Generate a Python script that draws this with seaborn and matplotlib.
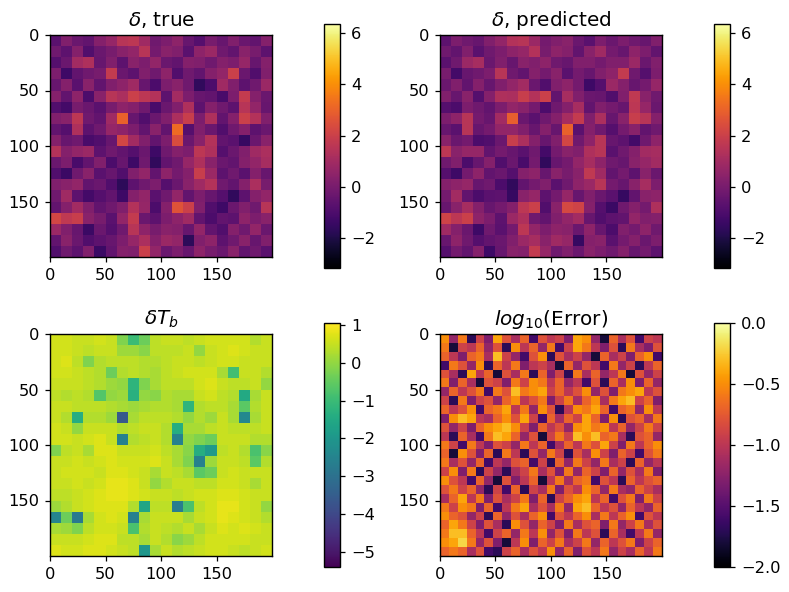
"""
Four field maps: density true / predicted, brightness temperature, log error.
Fields are coarse grids estimated by eye from the reference image.
"""

import matplotlib
matplotlib.use("Agg")

import matplotlib.pyplot as plt
import numpy as np
import seaborn as sns

sns.set_theme(style="white", rc={"axes.edgecolor": "black", "axes.linewidth": 1.0})
plt.rcParams["font.family"] = ["DejaVu Sans"]
plt.rcParams["xtick.bottom"] = True
plt.rcParams["ytick.left"] = True

tick_values = [0, 50, 100, 150]
field_size = 200

delta_true = [
    [-0.7, 0.2, -0.3, -0.5, 0.3, 0.7, 1.5, 1.6, 0.9, -0.2, 0.1, 0.5, -0.4, -0.8, 0.0, -0.4, 0.2, -0.3, -0.5, 0.3],
    [-0.2, -0.6, 0.3, -0.9, -0.3, 0.0, 0.4, 0.6, 1.5, -0.1, 0.4, 0.2, -0.7, 0.5, 0.8, -0.2, -0.5, 0.4, 0.0, -0.6],
    [-0.8, -0.3, 1.0, 1.3, -0.4, 0.2, -0.6, 0.4, 0.1, 0.6, -0.3, -0.5, 0.3, 0.2, -0.2, 0.3, 0.1, 0.7, -0.4, 0.3],
    [0.1, -1.3, -0.5, -0.2, 0.0, 1.8, -0.3, -0.6, 0.2, -0.2, 0.5, -0.9, -0.2, -0.5, 0.3, 0.6, 2.0, -0.3, -0.9, 0.2],
    [-0.4, 0.3, -0.7, 0.4, -0.5, 0.2, 0.5, 0.9, -0.4, -1.0, 0.1, 0.4, -0.2, -1.6, -1.0, 0.9, 0.2, -0.6, -0.2, 0.8],
    [0.3, -0.5, 0.5, -1.0, 0.4, 1.5, 1.2, 2.0, 1.6, 1.4, -0.6, 1.0, 0.1, -0.4, -0.5, -1.1, 0.1, 1.8, 0.3, -0.3],
    [-0.9, -1.2, 0.0, -0.3, -0.7, 0.0, 0.5, 0.3, -0.2, -1.1, -0.3, 0.2, 1.3, -0.6, 0.3, -0.2, -0.6, 1.5, 0.6, -0.4],
    [0.2, 0.4, 1.6, -0.2, -0.5, 0.9, 3.0, -0.4, -0.9, -0.3, 0.2, 1.2, 1.9, 0.1, 1.3, -0.5, 0.3, 2.0, 1.4, 0.2],
    [-0.5, -0.8, 1.3, -0.6, -0.2, 0.7, 0.5, 0.1, -0.5, 0.4, -0.5, 3.2, -0.8, 0.2, -0.3, -0.9, -0.2, 0.3, -0.6, -0.3],
    [0.3, -0.4, -0.2, -1.1, -0.9, -0.4, 2.2, 1.0, 0.2, -0.5, 0.1, 2.4, -0.3, 0.4, 1.4, -0.5, -0.7, -1.5, -0.3, 0.4],
    [1.4, 0.3, 0.6, 0.8, -0.6, -0.2, -0.5, -0.8, -0.3, -1.3, -0.2, 0.3, 0.1, 1.6, 1.3, -0.8, -0.3, 0.2, 0.9, 1.2],
    [-0.3, 0.1, -1.1, -0.5, 0.2, -1.0, -0.4, -1.3, -0.2, -1.6, -0.5, -0.2, 0.7, 1.3, 0.4, -0.3, -0.5, 0.3, 0.6, 1.1],
    [-0.9, -1.4, -0.2, 0.4, -0.7, -0.4, -0.9, 0.2, 0.6, -0.5, 0.5, -0.1, 0.3, 1.9, 0.8, -0.6, -0.2, -0.7, 0.3, -0.4],
    [0.2, 0.4, 0.6, -0.5, -0.3, -0.9, -1.7, -0.6, -0.2, 0.1, -0.8, -0.3, 0.4, 0.9, 1.4, -0.2, -0.5, 0.3, 1.2, 0.0],
    [-0.2, 0.9, -0.6, -1.2, -0.8, -0.5, -1.3, 0.3, 0.6, -0.7, -0.2, 0.6, -0.5, 0.1, -0.4, -0.8, -1.6, -0.6, 0.3, 0.6],
    [-0.5, 0.3, 1.0, 0.2, -0.5, -0.2, 0.2, 1.4, 0.7, -1.0, 0.3, 2.6, 2.0, 0.2, -0.9, -1.3, -0.3, 0.2, -0.2, 1.5],
    [2.2, 1.7, 1.9, 0.4, 0.0, -0.7, 0.6, 1.8, -0.3, -0.6, 0.1, 0.5, 0.9, -0.5, -1.0, -0.5, -0.6, 0.5, 0.1, 0.4],
    [0.8, 0.2, -0.4, -1.4, -0.3, -0.8, -0.2, 1.5, 0.5, 0.0, 0.4, 0.3, -0.4, 0.6, -0.5, -0.9, 0.3, -0.2, 0.6, -0.3],
    [-0.5, 0.4, -0.3, -0.9, -0.6, -0.4, 0.1, 0.7, 1.2, 0.3, 0.8, 0.6, -1.7, 0.2, 0.5, -0.6, -0.2, 0.4, -0.4, 0.2],
    [-0.9, -0.2, -0.6, 0.2, -1.4, -0.5, 0.3, 0.2, 2.0, 0.6, -0.3, 0.1, -0.4, 0.5, 0.0, -0.3, 0.4, -0.5, -0.2, -0.7],
]

delta_pred = [
    [-0.6, 0.1, -0.2, -0.4, 0.2, 0.6, 1.4, 1.5, 0.8, -0.1, 0.2, 0.4, -0.3, -0.7, 0.1, -0.3, 0.1, -0.2, -0.4, 0.2],
    [-0.2, -0.5, 0.2, -0.7, -0.2, 0.1, 0.5, 0.7, 1.4, 0.0, 0.5, 0.3, -0.5, 0.4, 0.9, -0.1, -0.4, 0.5, 0.1, -0.5],
    [-0.7, -0.2, 0.8, 1.1, -0.3, 0.2, -0.4, 0.4, 0.2, 0.5, -0.2, -0.4, 0.2, 0.2, -0.1, 0.2, 0.2, 0.8, -0.3, 0.2],
    [0.0, -1.2, -0.4, -0.2, 0.1, 1.5, -0.2, -0.5, 0.3, -0.1, 0.4, -0.7, -0.1, -0.4, 0.2, 0.5, 1.8, -0.2, -0.8, 0.1],
    [-0.3, 0.2, -0.5, 0.3, -0.4, 0.2, 0.6, 1.0, -0.3, -0.9, 0.2, 0.5, -0.1, -1.3, -0.8, 0.8, 0.3, -0.4, -0.1, 0.7],
    [0.2, -0.4, 0.4, -0.8, 0.3, 1.3, 1.2, 1.9, 1.4, 2.0, -0.5, 1.1, 0.2, -0.3, -0.4, -0.9, 0.2, 1.7, 0.4, -0.2],
    [-0.8, -1.0, 0.1, -0.2, -0.5, 0.1, 0.6, 0.4, -0.1, -1.0, -0.2, 0.3, 1.1, -0.5, 0.2, -0.1, -0.4, 1.6, 0.7, -0.3],
    [0.1, 0.5, 1.5, -0.1, -0.4, 1.0, 2.9, -0.3, -0.7, -0.2, 0.3, 1.1, 1.8, 0.2, 1.2, -0.4, 0.4, 1.9, 1.5, 0.3],
    [-0.4, -0.7, 1.5, -0.4, -0.1, 0.6, 0.6, 0.2, -0.4, 0.3, -0.4, 3.0, -0.7, 0.3, -0.2, -0.8, -0.1, 0.4, -0.5, -0.2],
    [0.4, -0.3, -0.1, -1.0, -0.9, -0.3, 1.9, 1.2, 0.3, -0.4, 0.2, 2.2, -0.2, 0.5, 1.5, -0.4, -0.6, -1.2, -0.2, 0.5],
    [1.6, 0.4, 0.7, 0.7, -0.5, -0.1, -0.4, -0.7, -0.2, -1.2, -0.1, 0.4, 0.2, 1.3, 1.5, -0.7, -0.2, 0.3, 1.0, 1.1],
    [-0.2, 0.2, -1.0, -0.4, 0.3, -0.9, -0.3, -1.1, -0.1, -1.6, -0.4, -0.1, 0.6, 1.1, 0.5, -0.2, -0.4, 0.4, 0.7, 1.0],
    [-0.8, -1.3, -0.1, 0.5, -0.5, -0.3, -0.8, 0.3, 0.5, -0.4, 0.4, 0.0, 0.4, 1.7, 0.9, -0.5, -0.1, -0.6, 0.4, -0.3],
    [0.3, 0.5, 0.7, -0.4, -0.2, -1.0, -1.6, -0.5, -0.1, 0.2, -0.7, -0.2, 0.5, 0.8, 1.5, -0.1, -0.4, 0.4, 1.1, 0.1],
    [-0.1, 1.0, -0.5, -1.0, -0.7, -0.6, -1.5, 0.4, 0.7, -0.6, -0.1, 0.7, -0.4, 0.2, -0.3, -0.7, -1.5, -0.5, 0.4, 0.5],
    [-0.4, 0.4, 1.1, 0.3, -0.4, -0.1, 0.3, 1.6, 2.0, -0.9, 0.4, 2.3, 2.1, 0.3, -0.8, -1.4, -0.2, 0.3, -0.1, 1.3],
    [2.1, 1.6, 2.0, 0.5, 0.1, -0.6, 0.8, 1.3, -0.2, -0.5, 0.2, 0.6, 1.0, -0.4, -0.9, -0.6, -0.5, 0.6, 0.2, 0.3],
    [0.9, 0.3, -0.3, -1.3, -0.2, -0.7, -0.1, 1.6, 0.6, 0.1, 0.5, 0.4, -0.3, 0.5, -0.4, -1.0, 0.2, -0.1, 0.5, -0.2],
    [-0.4, 0.5, -0.2, -0.8, -0.5, -0.3, 0.2, 0.8, 1.1, 0.4, 0.9, 0.7, -1.5, 0.3, 0.4, -0.7, -0.1, 0.3, -0.3, 0.1],
    [-0.8, -0.1, -0.5, 0.3, -1.3, -0.4, 0.4, 0.3, 1.8, 0.7, -0.2, 0.2, -0.3, 0.4, 0.1, -0.2, 0.3, -0.4, -0.1, -0.6],
]

delta_tb = [
    [0.6, 0.6, 0.5, 0.5, 0.6, 0.5, -0.2, -1.0, -0.4, 0.4, 0.5, 0.5, 0.4, 0.5, 0.6, 0.6, 0.6, 0.6, 0.3, 0.5],
    [0.6, 0.6, 0.5, 0.4, 0.5, 0.5, 0.1, 0.1, -0.1, 0.4, 0.4, 0.4, 0.5, 0.0, 0.5, 0.6, 0.7, 0.6, 0.5, 0.5],
    [0.6, 0.7, 0.4, -0.2, 0.3, 0.4, 0.4, 0.4, 0.3, 0.3, 0.4, 0.5, 0.5, 0.4, 0.5, 0.6, 0.6, 0.5, 0.5, 0.5],
    [0.6, 0.6, 0.5, 0.4, 0.3, -0.4, 0.3, 0.4, 0.3, 0.2, 0.4, 0.5, 0.6, 0.6, 0.6, 0.2, -0.9, 0.5, 0.5, 0.3],
    [0.5, 0.5, 0.5, 0.4, 0.3, 0.1, 0.0, -1.2, -0.2, 0.2, 0.4, 0.4, 0.4, 0.6, 0.7, 0.5, 0.4, 0.4, 0.5, 0.0],
    [0.4, 0.3, 0.4, 0.3, -0.7, 0.0, 0.1, -1.3, 0.0, -0.1, 0.3, 0.2, 0.2, 0.5, 0.6, 0.4, 0.3, -1.5, 0.2, 0.5],
    [0.5, 0.5, 0.4, 0.4, 0.4, 0.3, 0.2, 0.1, 0.2, 0.3, 0.3, 0.2, -1.2, 0.3, 0.4, 0.4, 0.2, -0.6, 0.3, 0.5],
    [0.5, 0.3, -1.4, 0.3, 0.3, 0.1, -3.6, 0.2, 0.4, 0.4, 0.4, 0.3, 0.0, 0.3, 0.1, 0.5, 0.2, -2.4, 0.2, 0.5],
    [0.6, 0.5, 0.0, 0.5, 0.5, 0.5, 0.3, 0.4, 0.5, 0.5, 0.3, -1.4, 0.2, 0.2, 0.4, 0.5, 0.4, 0.4, 0.4, 0.5],
    [0.6, 0.6, 0.5, 0.6, 0.7, 0.5, -2.6, 0.3, 0.4, 0.5, 0.3, -2.6, 0.0, -0.2, -0.4, 0.5, 0.5, 0.5, 0.3, 0.3],
    [-0.2, 0.4, 0.5, 0.2, 0.7, 0.7, 0.5, 0.5, 0.5, 0.6, 0.4, 0.2, -0.1, -1.4, -1.9, 0.4, 0.5, 0.3, -0.8, -0.1],
    [0.5, 0.5, 0.6, 0.5, 0.6, 0.7, 0.6, 0.6, 0.6, 0.7, 0.5, 0.2, -0.2, -2.6, 0.1, 0.5, 0.5, 0.4, -0.6, 0.3],
    [0.5, 0.6, 0.6, 0.6, 0.5, 0.7, 0.7, 0.6, 0.5, 0.2, 0.5, 0.4, 0.2, -0.6, -0.4, 0.5, 0.6, 0.5, 0.5, 0.5],
    [0.5, 0.5, 0.6, 0.5, 0.6, 0.8, 0.8, 0.7, 0.5, 0.0, 0.3, 0.5, 0.5, 0.4, 0.4, 0.6, 0.6, 0.5, 0.2, 0.5],
    [0.4, 0.4, 0.5, 0.6, 0.7, 0.8, 0.8, 0.7, 0.6, 0.5, 0.5, 0.4, 0.5, 0.6, 0.6, 0.7, 0.7, 0.6, 0.5, 0.5],
    [0.1, 0.3, 0.5, 0.6, 0.7, 0.7, 0.7, 0.3, -1.6, 0.4, 0.4, -2.7, -0.8, 0.4, 0.6, 0.8, 0.8, 0.6, 0.5, 0.0],
    [-2.5, -0.4, -2.8, 0.2, 0.6, 0.7, 0.6, -2.6, 0.2, 0.5, 0.5, 0.5, 0.2, 0.5, 0.6, 0.8, 0.7, 0.6, 0.5, 0.3],
    [0.2, 0.1, -0.2, 0.4, 0.6, 0.6, 0.5, -0.8, 0.3, 0.5, 0.4, 0.3, 0.5, 0.2, 0.5, 0.7, 0.6, 0.7, 0.6, 0.5],
    [0.5, 0.5, 0.5, 0.6, 0.7, 0.7, 0.4, 0.4, 0.2, 0.5, 0.3, -0.1, 0.1, 0.4, 0.6, 0.6, 0.6, 0.6, 0.5, 0.5],
    [0.7, 0.6, 0.6, 0.7, 0.7, 0.6, 0.5, 0.4, -2.0, 0.2, 0.5, 0.3, 0.4, 0.5, 0.6, 0.6, 0.5, 0.4, 0.5, 0.6],
]

log_error = [
    [-0.5, -1.2, -0.6, -1.7, -0.9, -1.3, -0.4, -0.8, -1.1, -0.7, -1.6, -0.8, -1.0, -0.9, -1.3, -0.4, -0.5, -1.2, -1.8, -0.7, -1.1, -0.8, -1.6, -0.9, -1.0],
    [-0.6, -1.8, -0.9, -1.0, -0.7, -1.2, -0.8, -1.7, -0.5, -1.0, -0.7, -1.2, -0.6, -1.6, -0.9, -0.4, -0.6, -1.0, -1.3, -0.8, -1.7, -0.6, -1.1, -1.3, -0.8],
    [-0.7, -1.0, -1.3, -0.7, -0.6, -1.1, -0.3, -0.9, -1.2, -1.6, -0.8, -0.5, -1.7, -0.8, -1.1, -0.9, -1.2, -1.8, -0.7, -1.1, -0.9, -1.3, -0.7, -0.5, -1.6],
    [-1.6, -0.6, -0.8, -1.2, -0.5, -1.7, -0.7, -1.0, -0.6, -1.3, -1.0, -0.9, -1.1, -1.8, -0.7, -1.2, -0.8, -1.0, -1.6, -0.6, -1.2, -0.9, -1.7, -1.0, -0.7],
    [-0.8, -1.1, -1.7, -0.4, -1.0, -0.7, -1.8, -0.8, -1.1, -0.6, -1.7, -0.7, -1.3, -0.9, -1.7, -0.6, -1.1, -0.7, -1.2, -1.0, -0.6, -1.8, -0.8, -1.2, -0.9],
    [-0.6, -1.3, -0.7, -1.1, -1.8, -0.8, -0.9, -1.3, -0.6, -0.9, -0.5, -0.6, -1.0, -0.7, -1.2, -1.0, -1.6, -0.8, -1.7, -0.7, -1.1, -0.5, -1.3, -0.7, -1.2],
    [-1.2, -0.7, -1.0, -0.8, -0.6, -1.6, -0.6, -0.8, -0.3, -0.6, -0.5, -0.4, -0.9, -0.7, -1.0, -0.8, -0.5, -1.2, -0.8, -1.3, -0.6, -0.5, -0.4, -1.0, -0.8],
    [-0.9, -1.7, -0.6, -1.3, -0.9, -0.8, -1.2, -0.7, -0.5, -1.0, -0.8, -0.6, -1.3, -0.9, -0.6, -1.1, -0.7, -0.5, -1.1, -0.6, -0.4, -0.3, -0.9, -0.7, -1.3],
    [-0.7, -1.0, -0.8, -0.5, -1.6, -0.7, -0.6, -0.4, -1.0, -0.6, -1.2, -0.5, -0.8, -1.7, -1.0, -0.5, -0.6, -0.4, -0.7, -1.6, -0.7, -0.6, -1.2, -0.5, -1.0],
    [-1.3, -0.5, -0.3, -0.4, -1.0, -1.1, -0.7, -0.5, -0.8, -0.4, -0.9, -1.6, -0.7, -1.1, -0.7, -0.9, -0.4, -0.7, -1.3, -0.5, -1.7, -0.8, -0.7, -1.1, -0.6],
    [-0.8, -1.2, -0.9, -1.3, -0.7, -0.5, -0.4, -0.3, -0.5, -0.9, -1.3, -0.7, -1.0, -0.8, -1.2, -0.5, -0.4, -0.6, -0.5, -1.0, -0.7, -1.2, -0.9, -0.6, -0.9],
    [-1.0, -1.7, -0.7, -1.1, -1.6, -0.6, -0.3, -0.4, -0.7, -1.2, -0.8, -1.8, -0.9, -0.6, -0.9, -0.3, -0.5, -0.3, -0.7, -0.6, -1.1, -1.7, -0.8, -0.7, -1.2],
    [-0.6, -0.9, -1.6, -0.6, -1.0, -1.3, -0.8, -0.9, -1.2, -0.6, -1.0, -0.7, -1.6, -1.1, -0.7, -1.0, -0.6, -0.8, -0.4, -0.9, -1.3, -0.6, -1.0, -0.7, -0.5],
    [-0.7, -1.8, -0.5, -0.8, -1.3, -0.7, -1.7, -0.6, -1.0, -1.7, -0.8, -1.2, -0.6, -0.9, -1.7, -0.8, -1.1, -0.5, -0.9, -1.3, -0.7, -0.9, -1.6, -0.8, -0.6],
    [-0.6, -1.1, -0.8, -1.2, -0.7, -1.6, -1.0, -1.2, -0.8, -0.7, -1.6, -0.9, -1.7, -0.7, -1.2, -0.6, -0.9, -1.2, -0.6, -1.1, -0.9, -1.7, -0.7, -1.2, -1.0],
    [-0.9, -0.5, -1.3, -0.6, -1.7, -0.9, -1.2, -1.7, -1.1, -0.9, -0.6, -1.1, -0.8, -1.3, -0.6, -1.2, -0.7, -0.9, -1.3, -0.7, -1.2, -0.8, -1.1, -0.6, -1.3],
    [-0.5, -0.8, -1.0, -1.6, -0.7, -1.2, -1.8, -0.8, -1.3, -1.0, -0.7, -1.8, -1.0, -0.6, -1.1, -0.7, -0.6, -1.6, -0.8, -1.0, -1.7, -0.7, -1.0, -0.8, -0.7],
    [-0.8, -0.6, -0.9, -0.7, -1.2, -1.7, -0.9, -1.6, -0.7, -1.7, -0.9, -1.1, -0.6, -1.3, -0.8, -1.0, -0.5, -0.7, -1.2, -0.6, -1.1, -1.2, -0.7, -0.9, -1.1],
    [-1.1, -0.7, -0.4, -1.0, -0.6, -1.3, -0.8, -1.1, -0.9, -0.6, -1.3, -0.7, -1.7, -0.9, -0.7, -0.5, -0.4, -1.0, -0.7, -1.6, -0.8, -0.6, -1.3, -0.6, -0.9],
    [-0.6, -0.9, -0.5, -0.6, -1.3, -0.7, -1.6, -1.0, -0.6, -0.4, -1.1, -0.8, -1.1, -0.6, -1.2, -0.4, -0.3, -0.7, -1.0, -0.8, -1.2, -0.7, -1.0, -1.2, -0.7],
    [-0.5, -0.7, -0.8, -1.2, -0.9, -1.7, -0.7, -1.2, -0.8, -1.1, -0.7, -0.5, -1.6, -0.8, -1.0, -0.7, -0.5, -1.1, -0.6, -1.0, -0.7, -0.5, -1.6, -0.8, -1.0],
    [-0.7, -0.4, -0.6, -0.9, -1.3, -0.8, -1.1, -1.7, -0.5, -0.8, -1.2, -0.7, -0.9, -1.3, -0.6, -1.1, -0.8, -0.7, -1.3, -0.6, -1.2, -0.9, -0.6, -1.1, -0.8],
    [-0.6, -0.3, -0.3, -0.7, -1.0, -1.6, -0.9, -0.7, -1.2, -0.6, -1.0, -0.5, -1.2, -0.8, -1.3, -0.6, -1.0, -0.8, -1.7, -0.7, -1.1, -1.6, -1.0, -0.6, -1.2],
    [-0.5, -0.4, -0.2, -0.6, -1.2, -0.8, -1.3, -1.8, -1.0, -0.5, -1.3, -0.7, -0.9, -0.6, -1.1, -0.9, -0.6, -1.2, -0.7, -1.0, -0.8, -0.6, -1.3, -0.9, -0.7],
    [-0.7, -0.6, -0.7, -1.1, -0.8, -1.6, -1.7, -0.9, -0.7, -1.1, -0.8, -1.0, -0.5, -1.2, -0.7, -1.3, -0.8, -1.0, -0.6, -1.2, -0.9, -1.1, -0.7, -1.0, -0.6],
]

titles = [r"$\delta$, true", r"$\delta$, predicted", r"$\delta T_b$", r"$log_{10}$(Error)"]
cmaps = ["inferno", "inferno", "viridis", "inferno"]
limits = [(-3.15, 6.35), (-3.15, 6.35), (-5.4, 1.05), (-2.0, 0.0)]
cbar_ticks = [
    [-2, 0, 2, 4, 6],
    [-2, 0, 2, 4, 6],
    [-5, -4, -3, -2, -1, 0, 1],
    [-2.0, -1.5, -1.0, -0.5, 0.0],
]
fields = [delta_true, delta_pred, delta_tb, log_error]

W, H = 789, 592
# pixel boxes: left, top, width, height
map_boxes = [(50, 35, 222, 222), (440, 35, 222, 222), (50, 334, 222, 222), (440, 334, 222, 222)]
cbar_boxes = [(324, 24, 16, 244), (714, 24, 16, 244), (324, 323, 16, 244), (714, 323, 16, 244)]


def px_box(box):
    left, top, width, height = box
    return [left / W, 1 - (top + height) / H, width / W, height / H]


fig = plt.figure(figsize=(W / 100, H / 100), dpi=100)

for field, title, cmap, (vmin, vmax), ticks, mbox, cbox in zip(
    fields, titles, cmaps, limits, cbar_ticks, map_boxes, cbar_boxes
):
    ax = fig.add_axes(px_box(mbox))
    cax = fig.add_axes(px_box(cbox))
    grid = np.array(field)
    sns.heatmap(
        grid, ax=ax, cbar_ax=cax, cmap=cmap, vmin=vmin, vmax=vmax,
        xticklabels=False, yticklabels=False,
        cbar_kws={"ticks": ticks},
    )
    # cells are coarser than the 200 x 200 field, so rescale tick positions
    scale = grid.shape[0] / field_size
    ax.set_xticks([t * scale for t in tick_values])
    ax.set_yticks([t * scale for t in tick_values])
    ax.set_xticklabels([str(t) for t in tick_values], fontsize=11.7, color="black", rotation=0)
    ax.set_yticklabels([str(t) for t in tick_values], fontsize=11.7, color="black", rotation=0)
    ax.tick_params(length=3.6, width=0.9, color="black", pad=4.2, left=True, bottom=True)
    ax.set_title(title, fontsize=14.4, color="black", pad=6.5)
    for spine in ax.spines.values():
        spine.set_visible(True)
        spine.set_color("black")
        spine.set_linewidth(1.0)

    cb = ax.collections[0].colorbar
    cb.outline.set_linewidth(1.0)
    cb.outline.set_edgecolor("black")
    cax.tick_params(labelsize=11.7, length=3.6, width=0.9, pad=4.2, color="black", labelcolor="black", right=True)

fig.savefig("out.png", dpi=100)
plt.close(fig)
